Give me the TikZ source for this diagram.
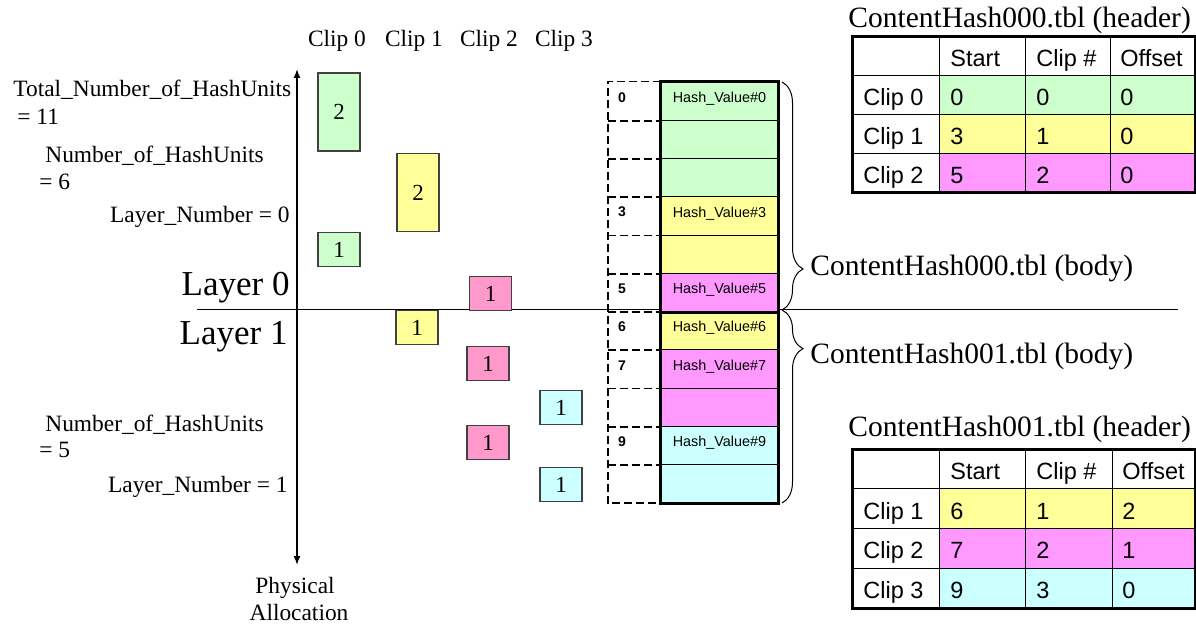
\documentclass[tikz,border=0pt]{standalone}
\usepackage{fontspec}
\setmainfont{Liberation Serif}
\setsansfont{Liberation Sans}
\usetikzlibrary{arrows.meta}
\usetikzlibrary{decorations.pathreplacing}
\definecolor{cgreen}{RGB}{204,255,204}
\definecolor{cyellow}{RGB}{255,255,153}
\definecolor{cpink}{RGB}{255,153,255}
\definecolor{cblock}{RGB}{255,153,204}
\definecolor{ccyan}{RGB}{204,255,255}
\tikzset{>={Latex[length=4.5pt,width=3.5pt]}}
\tikzset{
  unit/.style={draw=black!75, line width=0.75pt, minimum width=21pt, minimum height=17pt, inner sep=0pt, font=\fontsize{11.5}{13.8}\selectfont},
  dunit/.style={unit, minimum height=39pt},
  lbl/.style={anchor=base west, inner sep=0pt, font=\fontsize{11.7}{14}\selectfont},
  rlbl/.style={lbl, anchor=base east},
  layer/.style={anchor=base east, inner sep=0pt, font=\fontsize{17.5}{21}\selectfont},
  ttl/.style={anchor=base west, inner sep=0pt, font=\fontsize{14.75}{17.7}\selectfont},
  slot/.style={minimum width=26.5pt, minimum height=19.135pt, inner sep=0pt},
  dsh/.style={line width=0.9pt, dash pattern=on 4pt off 2pt},
  hrow/.style={draw, line width=0.5pt, minimum width=58.5pt, minimum height=19.135pt, inner sep=0pt},
  hv/.style={inner sep=0pt, text height=5.15pt, text depth=0pt, font=\sffamily\fontsize{7.2}{8.6}\selectfont},
  idx/.style={anchor=west, inner sep=0pt, text height=5pt, text depth=0pt, font=\sffamily\bfseries\fontsize{7}{8.4}\selectfont},
  cell/.style={anchor=west, inner sep=0pt, text height=8.4pt, text depth=0pt, font=\sffamily\fontsize{11.75}{14}\selectfont},
  grid/.style={line width=0.5pt},
  frame/.style={line width=1.5pt},
  body/.style={decorate, line width=0.5pt}
}

\begin{document}
\begin{tikzpicture}[x=0.5pt, y=-0.5pt]
\useasboundingbox (0,0) rectangle (1196,626);

\coordinate (hl) at (197,310);
\coordinate (hr) at (1178,310);
\draw[line width=0.5pt] (hl) -- (hr);
\coordinate (atop) at (297,69);
\coordinate (abot) at (297,565);
\draw[<->, line width=0.75pt] (atop) -- (abot);

\foreach \i/\x in {0/337,1/414,2/489,3/564}
  \node[lbl, anchor=base] (clip\i) at (\x,47) {Clip \i};

\node[lbl] (tot) at (13,97) {Total\_Number\_of\_HashUnits};
\node[lbl] (tot2) at (17,125) {= 11};
\node[lbl] (num0) at (45,163) {Number\_of\_HashUnits};
\node[lbl] (num02) at (39,190) {= 6};
\node[rlbl] (ln0) at (290,223) {Layer\_Number = 0};
\node[layer] (lay0) at (290,295) {Layer 0};
\node[layer] (lay1) at (288,344) {Layer 1};
\node[lbl] (num1) at (45,431) {Number\_of\_HashUnits};
\node[lbl] (num12) at (39,458) {= 5};
\node[rlbl] (ln1) at (288,492) {Layer\_Number = 1};
\node[lbl, anchor=base] (phys) at (295,593) {Physical};
\node[lbl, anchor=base] (alloc) at (299,620) {Allocation};

\node[dunit, fill=cgreen] (c0a) at (339,112) {2};
\node[unit, fill=cgreen] (c0b) at (339,249.5) {1};
\node[dunit, fill=cyellow] (c1a) at (418,192.5) {2};
\node[unit, fill=cyellow] (c1b) at (417,327.5) {1};
\node[unit, fill=cblock] (c2a) at (490.5,293.5) {1};
\node[unit, fill=cblock] (c2b) at (488,363.5) {1};
\node[unit, fill=cblock] (c2c) at (488,442.5) {1};
\node[unit, fill=ccyan] (c3a) at (561,407.5) {1};
\node[unit, fill=ccyan] (c3b) at (561,484.5) {1};

\foreach \i in {0,...,10}
  \node[slot] (d\i) at (634.5,101.13+\i*38.27) {};
\draw[dsh] (d0.north east) -- (d0.north west) -- (d10.south west) -- (d10.south east);
\foreach \i in {0,...,9}
  \draw[dsh] (d\i.south west) -- (d\i.south east);
\foreach \c [count=\i from 0] in {cgreen,cgreen,cgreen,cyellow,cyellow,cpink,cyellow,cpink,cpink,ccyan,ccyan}
  \node[hrow, fill=\c] (h\i) at (719.5,101.13+\i*38.27) {};
\draw[frame] (h0.north west) rectangle (h10.south east);
\draw[frame] (h5.south west) -- (h5.south east);
\foreach \k in {0,3,5,6,7,9}{
  \node[idx] (n\k) at ([xshift=5pt, yshift=2pt]d\k.west) {\k};
  \node[hv] (v\k) at ([yshift=2pt]h\k.center) {Hash\_Value\#\k};
}

\coordinate (b0) at (782,82);
\coordinate (b1) at (782,310);
\coordinate (b2) at (782,503);
\draw[body, decoration={brace, amplitude=10.5pt, aspect=0.82}] (b0) -- (b1);
\draw[body, decoration={brace, amplitude=10.5pt, aspect=0.2}] (b1) -- (b2);
\node[ttl] (body0) at (810,276) {ContentHash000.tbl (body)};
\node[ttl] (body1) at (810,364) {ContentHash001.tbl (body)};

\node[ttl] (head0) at (848,28) {ContentHash000.tbl (header)};
\foreach \lab/\st/\cl/\of/\c [count=\r] in {Clip 0/0/0/0/cgreen,Clip 1/3/1/0/cyellow,Clip 2/5/2/0/cpink}{
  \fill[\c] (939,37+39*\r) rectangle (1195,76+39*\r);
  \node[cell] (a\r-0) at (863,58.5+39*\r) {\lab};
  \node[cell] (a\r-1) at (950,58.5+39*\r) {\st};
  \node[cell] (a\r-2) at (1036,58.5+39*\r) {\cl};
  \node[cell] (a\r-3) at (1120,58.5+39*\r) {\of};
}
\foreach \h/\x [count=\j] in {Start/950,Clip \#/1036,Offset/1120}
  \node[cell] (a0-\j) at (\x,58.5) {\h};
\foreach \x in {939,1025,1110} \draw[grid] (\x,37) -- (\x,193);
\foreach \y in {76,115,154} \draw[grid] (852,\y) -- (1195,\y);
\draw[frame] (852,37) rectangle (1195,193);

\node[ttl] (head1) at (848,437) {ContentHash001.tbl (header)};
\foreach \lab/\st/\cl/\of/\c [count=\r] in {Clip 1/6/1/2/cyellow,Clip 2/7/2/1/cpink,Clip 3/9/3/0/ccyan}{
  \fill[\c] (939,449+39.75*\r) rectangle (1195,488.75+39.75*\r);
  \node[cell] (b\r-0) at (863,470.9+39.75*\r) {\lab};
  \node[cell] (b\r-1) at (950,470.9+39.75*\r) {\st};
  \node[cell] (b\r-2) at (1036,470.9+39.75*\r) {\cl};
  \node[cell] (b\r-3) at (1122,470.9+39.75*\r) {\of};
}
\foreach \h/\x [count=\j] in {Start/950,Clip \#/1036,Offset/1122}
  \node[cell] (b0-\j) at (\x,470.9) {\h};
\foreach \x in {939,1025,1112} \draw[grid] (\x,449) -- (\x,608);
\foreach \y in {488.75,528.5,568.25} \draw[grid] (852,\y) -- (1195,\y);
\draw[frame] (852,449) rectangle (1195,608);
\end{tikzpicture}
\end{document}
